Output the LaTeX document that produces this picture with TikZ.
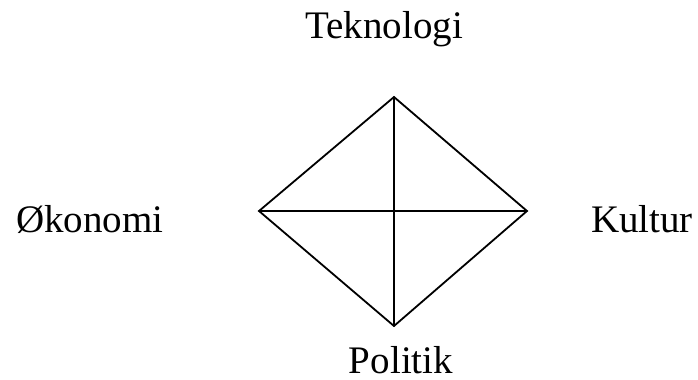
\documentclass[tikz,border=0pt]{standalone}
\usepackage{fontspec}
\setmainfont{Liberation Serif}
\usepackage{tikz}
\usetikzlibrary{positioning}

\begin{document}
\begin{tikzpicture}[
  x=0.5pt, y=-0.5pt,
  label/.style={anchor=base, inner sep=0pt, font=\fontsize{19.5}{23}\selectfont},
  edge/.style={line width=0.9pt, line join=miter}
]
  \useasboundingbox (0,0) rectangle (698,380);
  \coordinate (top) at (394,97);
  \coordinate (bot) at (394,326);
  \coordinate (lft) at (259,211);
  \coordinate (rgt) at (527,211);
  \node[label] (tek) at (384,39) {Teknologi};
  \node[label] (oko) at (90,232) {Økonomi};
  \node[label] (kul) at (642,232) {Kultur};
  \node[label] (pol) at (401,373) {Politik};
  \draw[edge] (top) -- (rgt) -- (bot) -- (lft) -- cycle;
  \draw[edge] (lft) -- (rgt);
  \draw[edge] (top) -- (bot);
\end{tikzpicture}
\end{document}
